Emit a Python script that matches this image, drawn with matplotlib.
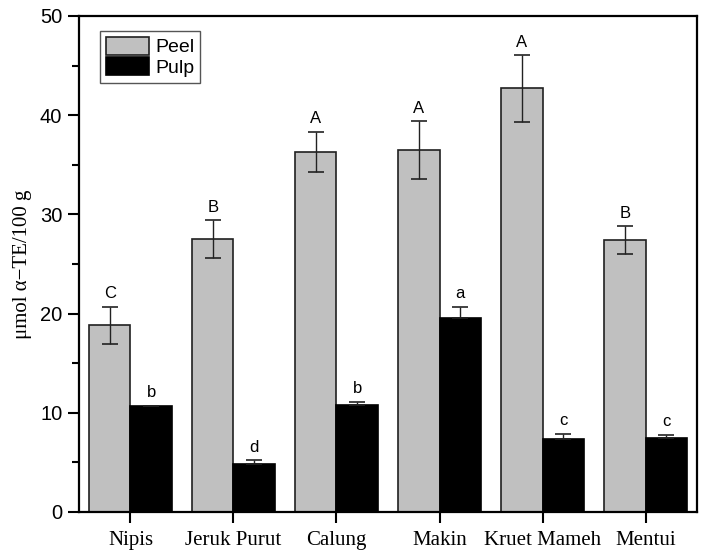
import numpy as np
import matplotlib
matplotlib.use("Agg")
import matplotlib.pyplot as plt
from matplotlib.ticker import MultipleLocator

# Data
fruits = ["Nipis", "Jeruk Purut", "Calung", "Makin", "Kruet Mameh", "Mentui"]
peel = [18.8, 27.5, 36.3, 36.5, 42.7, 27.4]
peel_err = [1.9, 1.9, 2.0, 2.9, 3.35, 1.4]
pulp = [10.7, 4.8, 10.8, 19.6, 7.4, 7.5]
pulp_err = [0.0, 0.4, 0.3, 1.1, 0.5, 0.3]
peel_letters = ["C", "B", "A", "A", "A", "B"]
pulp_letters = ["b", "d", "b", "a", "c", "c"]

fig = plt.figure(figsize=(7.07, 5.57), dpi=100)
ax = fig.add_axes([0.1117, 0.0808, 0.8742, 0.8905])

x = np.arange(len(fruits))
w = 0.4

ax.bar(x - w / 2, peel, w, color="#c0c0c0", edgecolor="#202020",
       linewidth=1.2, label="Peel", zorder=2)
ax.bar(x + w / 2, pulp, w, color="black", edgecolor="black",
       linewidth=1.2, label="Pulp", zorder=2)

ax.errorbar(x - w / 2, peel, yerr=peel_err, fmt="none", ecolor="#222222",
            elinewidth=1.0, capsize=6, capthick=1.2, zorder=3)
# only the upper half shows above the black pulp bars
ax.errorbar(x + w / 2, pulp, yerr=[np.zeros(len(pulp)), pulp_err],
            fmt="none", ecolor="#222222", elinewidth=1.0, capsize=6,
            capthick=1.2, zorder=3)

for i in range(len(fruits)):
    ax.annotate(peel_letters[i], (x[i] - w / 2, peel[i] + peel_err[i]),
                xytext=(0, 4), textcoords="offset points", ha="center",
                va="bottom", fontsize=12, family="Liberation Sans")
    ax.annotate(pulp_letters[i], (x[i] + w / 2, pulp[i] + pulp_err[i]),
                xytext=(0, 4), textcoords="offset points", ha="center",
                va="bottom", fontsize=12, family="Liberation Sans")

ax.set_xlim(-0.5, 5.5)
ax.set_ylim(0, 50)
ax.set_xticks(x)
ax.set_xticklabels(fruits, family="Liberation Serif", fontsize=15)
ax.yaxis.set_major_locator(MultipleLocator(10))
ax.yaxis.set_minor_locator(MultipleLocator(5))
for lab in ax.get_yticklabels():
    lab.set_family("Liberation Sans")
    lab.set_fontsize(14.5)

ax.tick_params(axis="both", which="major", direction="out", length=8,
               width=1.5, pad=4)
ax.tick_params(axis="y", which="minor", direction="out", length=5, width=1.5)
ax.tick_params(axis="x", pad=6)

for s in ax.spines.values():
    s.set_linewidth(1.6)

ax.set_ylabel("\u03bcmol \u03b1\u2212TE/100 g", family="Liberation Serif",
              fontsize=15, labelpad=6)

leg = ax.legend(loc="upper left", bbox_to_anchor=(0.034, 0.97),
                borderaxespad=0, fancybox=False, edgecolor="#555555",
                framealpha=1, prop={"family": "Liberation Sans", "size": 14},
                handlelength=2.2, handleheight=1.05, labelspacing=0.05,
                handletextpad=0.35, borderpad=0.3)
leg.get_frame().set_linewidth(1.0)

fig.savefig("out.png", dpi=100)
